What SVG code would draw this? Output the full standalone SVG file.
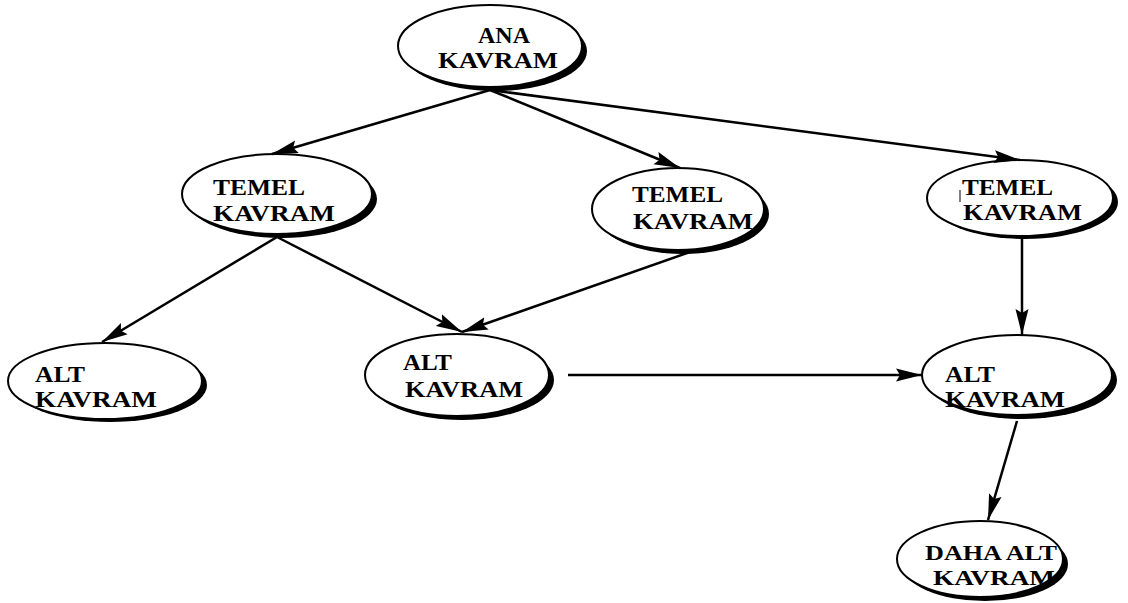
<svg xmlns="http://www.w3.org/2000/svg" width="1128" height="603" viewBox="0 0 1128 603">
  <defs>
    <style>
      .shadow { fill: #000; }
      .body { fill: #fff; stroke: #000; stroke-width: 2; }
      .label { font-family: "Liberation Serif", "Times New Roman", serif; font-weight: bold; font-size: 24px; fill: #000; }
      .small { font-size: 22px; }
      .edge { stroke: #000; stroke-width: 2.5; fill: none; marker-end: url(#head); }
    </style>
    <marker id="head" markerUnits="userSpaceOnUse" markerWidth="28" markerHeight="16" viewBox="0 0 28 16" refX="26" refY="8" orient="auto">
      <path d="M0,1.5 L26,8 L0,14.5 L4,8 Z" fill="#000"/>
    </marker>
  </defs>
  <rect width="1128" height="603" fill="#fff"/>

  <!-- concept nodes: shadow crescent, outlined ellipse, two-line label -->
  <g id="ana-kavram">
    <ellipse class="shadow" cx="495" cy="51" rx="92" ry="40"/>
    <ellipse class="body" cx="490" cy="46" rx="92" ry="41"/>
    <text class="label"><tspan x="478" y="43" textLength="52" lengthAdjust="spacingAndGlyphs">ANA</tspan><tspan x="438" y="68" textLength="120" lengthAdjust="spacingAndGlyphs">KAVRAM</tspan></text>
  </g>

  <g id="temel-kavram-1">
    <ellipse class="shadow" cx="282" cy="199" rx="95" ry="39"/>
    <ellipse class="body" cx="277" cy="194" rx="95" ry="40"/>
    <text class="label"><tspan x="213" y="195" textLength="92" lengthAdjust="spacingAndGlyphs">TEMEL</tspan><tspan x="213" y="221" textLength="122" lengthAdjust="spacingAndGlyphs">KAVRAM</tspan></text>
  </g>

  <g id="temel-kavram-2">
    <ellipse class="shadow" cx="683" cy="214" rx="86" ry="40"/>
    <ellipse class="body" cx="678" cy="209" rx="86" ry="41"/>
    <text class="label"><tspan x="632" y="202" textLength="91" lengthAdjust="spacingAndGlyphs">TEMEL</tspan><tspan x="633" y="229" textLength="120" lengthAdjust="spacingAndGlyphs">KAVRAM</tspan></text>
  </g>

  <g id="temel-kavram-3">
    <ellipse class="shadow" cx="1025" cy="202" rx="93" ry="37"/>
    <ellipse class="body" cx="1020" cy="198" rx="93" ry="38"/>
    <line x1="960" y1="190" x2="960" y2="202" stroke="#000" stroke-width="1"/>
    <text class="label"><tspan x="962" y="195" textLength="91" lengthAdjust="spacingAndGlyphs">TEMEL</tspan><tspan x="963" y="220" textLength="119" lengthAdjust="spacingAndGlyphs">KAVRAM</tspan></text>
  </g>

  <g id="alt-kavram-1">
    <ellipse class="shadow" cx="110" cy="385" rx="97" ry="37"/>
    <ellipse class="body" cx="105" cy="381" rx="97" ry="38"/>
    <text class="label"><tspan x="35" y="382" textLength="50" lengthAdjust="spacingAndGlyphs">ALT</tspan><tspan x="35" y="407" textLength="122" lengthAdjust="spacingAndGlyphs">KAVRAM</tspan></text>
  </g>

  <g id="alt-kavram-2">
    <ellipse class="shadow" cx="462" cy="380" rx="92" ry="40"/>
    <ellipse class="body" cx="457" cy="375" rx="92" ry="41"/>
    <text class="label"><tspan x="403" y="370" textLength="49" lengthAdjust="spacingAndGlyphs">ALT</tspan><tspan x="405" y="397" textLength="118" lengthAdjust="spacingAndGlyphs">KAVRAM</tspan></text>
  </g>

  <g id="alt-kavram-3">
    <ellipse class="shadow" cx="1022" cy="380" rx="95" ry="39"/>
    <ellipse class="body" cx="1017" cy="375" rx="95" ry="40"/>
    <text class="label"><tspan x="945" y="382" textLength="50" lengthAdjust="spacingAndGlyphs">ALT</tspan><tspan x="945" y="407" textLength="120" lengthAdjust="spacingAndGlyphs">KAVRAM</tspan></text>
  </g>

  <g id="daha-alt-kavram">
    <ellipse class="shadow" cx="985" cy="564" rx="83" ry="37"/>
    <ellipse class="body" cx="980" cy="559" rx="83" ry="38"/>
    <text class="label small"><tspan x="925" y="560" textLength="132" lengthAdjust="spacingAndGlyphs">DAHA ALT</tspan><tspan x="933" y="585" textLength="122" lengthAdjust="spacingAndGlyphs">KAVRAM</tspan></text>
  </g>

  <!-- connectors -->
  <g id="connectors">
    <line class="edge" x1="490" y1="90" x2="272" y2="154"/>
    <line class="edge" x1="490" y1="90" x2="680" y2="168"/>
    <line class="edge" x1="490" y1="90" x2="1020" y2="160"/>
    <line class="edge" x1="277" y1="237" x2="102" y2="342"/>
    <line class="edge" x1="277" y1="237" x2="462" y2="332"/>
    <line class="edge" x1="690" y1="252" x2="462" y2="332"/>
    <line class="edge" x1="1022" y1="238" x2="1022" y2="335"/>
    <line class="edge" x1="568" y1="375" x2="922" y2="375"/>
    <line class="edge" x1="1017" y1="421" x2="988" y2="520"/>
  </g>
</svg>
